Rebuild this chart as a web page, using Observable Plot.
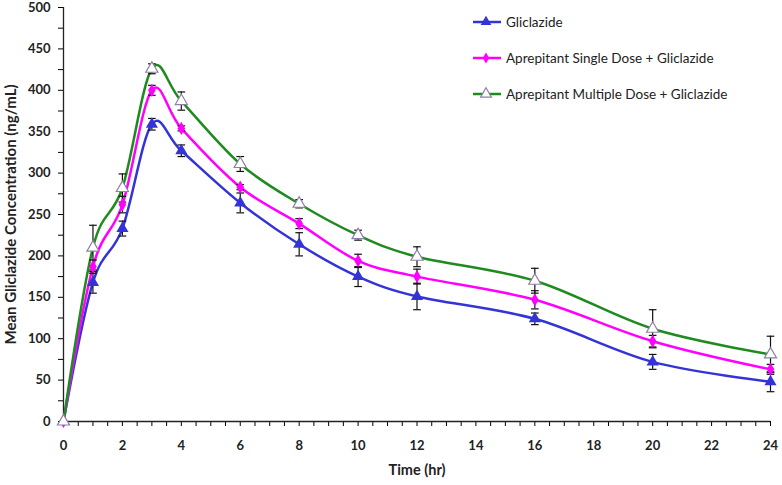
<!DOCTYPE html>
<html>
<head>
<meta charset="utf-8">
<script src="https://cdn.jsdelivr.net/npm/d3@7"></script>
<script src="https://cdn.jsdelivr.net/npm/@observablehq/plot@0.6"></script>
<style>
  html, body { margin: 0; padding: 0; background: #fff; }
  #wrap { position: relative; width: 782px; height: 485px; }
  #chart svg { font-family: Lato, "Liberation Sans", sans-serif; }
  #chart svg text { font-weight: bold; fill: #222; }
  #chart svg [aria-label="y-axis label"] text { font-size: 15px; }
  #chart svg [aria-label="x-axis label"] text { font-size: 14.5px; }
  #legend { position: absolute; left: 472px; top: 12px; font-family: Lato, "Liberation Sans", sans-serif; font-size: 13.5px; color: #222; }
  .row { display: flex; align-items: center; height: 20px; margin-bottom: 16px; }
  .row svg { margin-right: 4px; }
</style>
</head>
<body>
<div id="wrap">
  <div id="chart"></div>
  <div id="legend"></div>
</div>
<script>
const times = [0, 1, 2, 3, 4, 6, 8, 10, 12, 16, 20, 24];
const gliclazide   = [0, 168, 233, 359, 327, 264, 214, 175, 151, 124, 72, 48];
const gliclazideSD = [0, 13, 9, 7, 7, 12, 14, 12, 16, 7, 9, 12];
const single       = [0, 187, 262, 400, 354, 283, 239, 194, 175, 147, 97, 63];
const singleSD     = [0, 8, 10, 6, 3, 3, 6, 8, 9, 11, 7, 6];
const multiple     = [0, 210, 282, 426, 387, 311, 263, 225, 199, 170, 112, 81];
const multipleSD   = [0, 27, 17, 6, 11, 9, 5, 6, 12, 15, 23, 22];
const seriesNames = ["Gliclazide", "Aprepitant Single Dose + Gliclazide", "Aprepitant Multiple Dose + Gliclazide"];
const xLabels = [0, 2, 4, 6, 8, 10, 12, 14, 16, 18, 20, 22, 24];
const yLabels = [0, 50, 100, 150, 200, 250, 300, 350, 400, 450, 500];

const colors = ["#3434d6", "#ff00ff", "#1f8a1f"];
const means = [gliclazide, single, multiple];
const sds = [gliclazideSD, singleSD, multipleSD];

const data = [];
seriesNames.forEach((s, i) => times.forEach((t, j) => data.push({series: s, idx: i, t, y: means[i][j], sd: sds[i][j]})));
const bySeries = i => data.filter(d => d.idx === i);

const minorX = d3.range(0, 24.01, 0.5);
const minorY = d3.range(0, 501, 25);
const cap = 0.13;

const marks = [
  Plot.axisX({ticks: minorX, tickFormat: () => "", tickSize: 5, label: null}),
  Plot.axisX({ticks: xLabels, tickSize: 0, tickPadding: 19, fontSize: 13, label: "Time (hr)", labelAnchor: "center", labelArrow: "none", labelOffset: 53}),
  Plot.axisY({ticks: minorY, tickFormat: () => "", tickSize: 5, label: null}),
  Plot.axisY({ticks: yLabels, tickSize: 0, tickPadding: 13, fontSize: 13, label: "Mean Gliclazide Concentration (ng/mL)", labelAnchor: "center", labelArrow: "none", labelOffset: 58}),
  Plot.ruleX([0], {stroke: "#222", strokeWidth: 1.3}),
  Plot.ruleY([0], {stroke: "#222", strokeWidth: 1.3}),
];
[0, 1, 2].forEach(i => {
  marks.push(Plot.line(bySeries(i), {x: "t", y: "y", stroke: colors[i], strokeWidth: 2.5, curve: "cardinal"}));
});
[0, 1, 2].forEach(i => {
  const d = bySeries(i).filter(v => v.sd > 0);
  marks.push(Plot.ruleX(d, {x: "t", y1: v => v.y - v.sd, y2: v => v.y + v.sd, stroke: "#111", strokeWidth: 1.2}));
  marks.push(Plot.link(d, {x1: v => v.t - cap, x2: v => v.t + cap, y1: v => v.y + v.sd, y2: v => v.y + v.sd, stroke: "#111", strokeWidth: 1.2}));
  marks.push(Plot.link(d, {x1: v => v.t - cap, x2: v => v.t + cap, y1: v => v.y - v.sd, y2: v => v.y - v.sd, stroke: "#111", strokeWidth: 1.2}));
});
marks.push(Plot.dot(bySeries(0), {x: "t", y: "y", symbol: "triangle", fill: colors[0], r: 4.5}));
marks.push(Plot.dot(bySeries(1), {x: "t", y: "y", symbol: "diamond", fill: colors[1], r: 4}));
marks.push(Plot.dot(bySeries(2), {x: "t", y: "y", symbol: "triangle", fill: "white", stroke: "#8c80a6", strokeWidth: 1.2, r: 4.5}));

const chart = Plot.plot({
  width: 782,
  height: 485,
  marginLeft: 63,
  marginRight: 12,
  marginTop: 7,
  marginBottom: 64,
  style: {fontSize: "13px", background: "white"},
  x: {domain: [0, 24]},
  y: {domain: [0, 500]},
  marks
});
document.getElementById("chart").appendChild(chart);

// Legend
const legend = d3.select("#legend");
const symbols = [
  g => g.append("path").attr("d", d3.symbol(d3.symbolTriangle, 50)()).attr("transform", "translate(14,10)").attr("fill", colors[0]),
  g => g.append("path").attr("d", d3.symbol(d3.symbolDiamond, 36)()).attr("transform", "translate(14,10)").attr("fill", colors[1]),
  g => g.append("path").attr("d", d3.symbol(d3.symbolTriangle, 50)()).attr("transform", "translate(14,10)").attr("fill", "white").attr("stroke", "#8c80a6").attr("stroke-width", 1.2),
];
seriesNames.forEach((name, i) => {
  const row = legend.append("div").attr("class", "row");
  const s = row.append("svg").attr("width", 30).attr("height", 20);
  s.append("line").attr("x1", 1).attr("x2", 29).attr("y1", 10).attr("y2", 10).attr("stroke", colors[i]).attr("stroke-width", 2.5);
  symbols[i](s);
  row.append("span").text(name);
});
</script>
</body>
</html>
